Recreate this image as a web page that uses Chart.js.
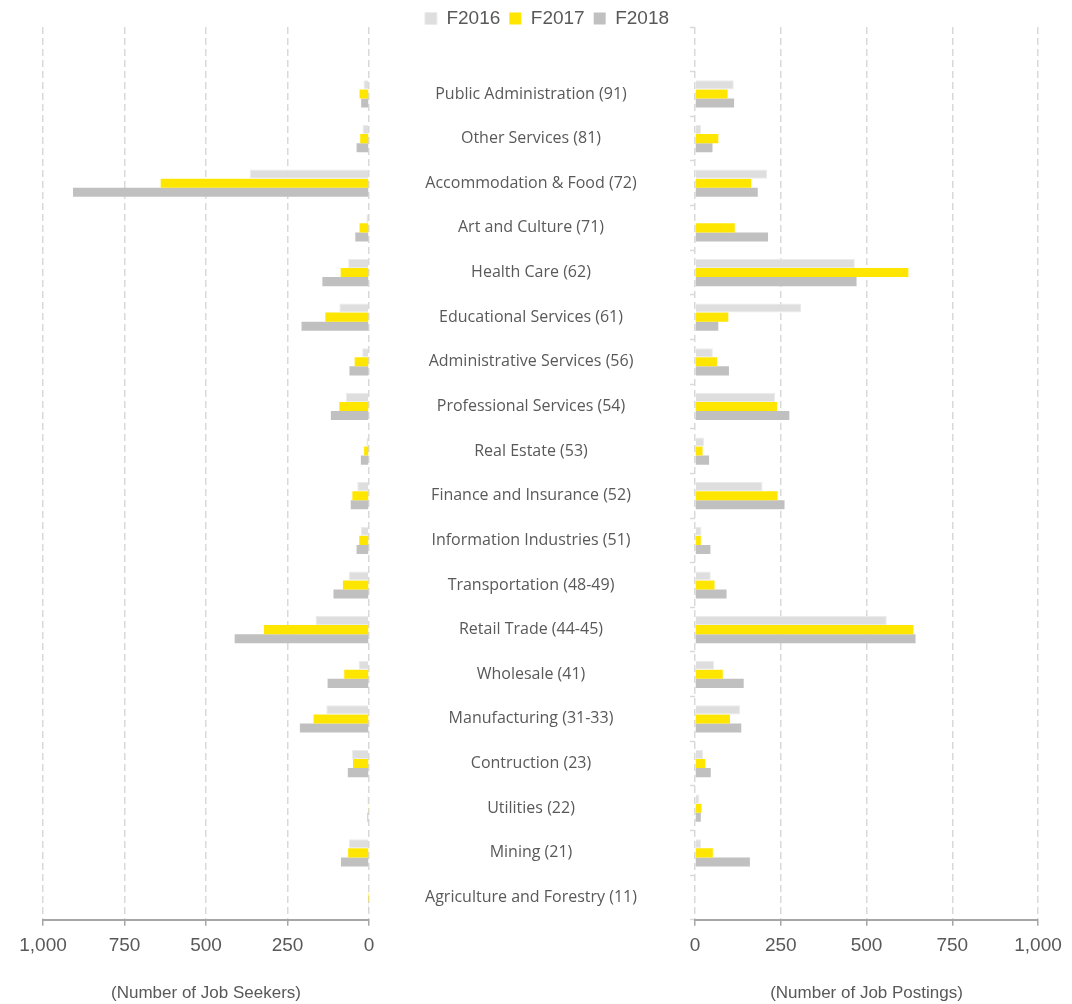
<!DOCTYPE html>
<html>
<head>
<meta charset="utf-8">
<script src="https://cdn.jsdelivr.net/npm/chart.js@4.4.1/dist/chart.umd.min.js"></script>
<style>
  html, body { margin: 0; padding: 0; background: #ffffff; }
  #wrap { position: relative; width: 1072px; height: 1004px; }
  #wrap canvas { position: absolute; top: 0; left: 0; }
</style>
</head>
<body>
<div id="wrap">
  <canvas id="postings" width="1072" height="1004"></canvas>
  <canvas id="seekers" width="400" height="1004"></canvas>
</div>
<script>
// Industries (NAICS code in brackets); the first row is a spacer above the list
const industries = [
  '',
  'Public Administration (91)',
  'Other Services (81)',
  'Accommodation & Food (72)',
  'Art and Culture (71)',
  'Health Care (62)',
  'Educational Services (61)',
  'Administrative Services (56)',
  'Professional Services (54)',
  'Real Estate (53)',
  'Finance and Insurance (52)',
  'Information Industries (51)',
  'Transportation (48-49)',
  'Retail Trade (44-45)',
  'Wholesale (41)',
  'Manufacturing (31-33)',
  'Contruction (23)',
  'Utilities (22)',
  'Mining (21)',
  'Agriculture and Forestry (11)'
];

const seriesNames = ['F2016', 'F2017', 'F2018'];

// Number of job seekers by industry
const seekersF2016 = [null, 17, 20, 366, 8, 64, 91, 21, 71, 8, 36, 25, 62, 164, 32, 131, 52, 5, 62, 2];
const seekersF2017 = [null, 29, 27, 639, 29, 87, 134, 44, 91, 15, 51, 30, 80, 322, 76, 170, 49, 2, 64, 1];
const seekersF2018 = [null, 24, 38, 908, 42, 143, 207, 60, 117, 25, 56, 38, 109, 412, 127, 212, 65, 5, 86, 3];

// Number of job postings by industry
const postingsF2016 = [null, 113, 18, 210, 0, 466, 310, 52, 234, 27, 197, 19, 46, 559, 56, 132, 24, 13, 18, 0];
const postingsF2017 = [null, 95, 68, 164, 116, 622, 97, 64, 239, 22, 241, 17, 57, 637, 81, 102, 30, 19, 52, 0];
const postingsF2018 = [null, 114, 51, 183, 213, 471, 68, 99, 275, 41, 261, 45, 92, 643, 142, 135, 46, 17, 160, 0];

const axisTicks = [0, 250, 500, 750, 1000];
const axisMax = 1000;

const TEXT = '#595959';
const GRID = '#D9D9D9';
const AXIS = '#A6A6A6';
const colors = ['#DEDEDE', '#FFE600', '#C0C0C0'];
const narrowFont = "'Liberation Sans', Arial, sans-serif";
const labelFont = "'Open Sans', 'Noto Sans', sans-serif";
const labelSize = 16;

function buildDatasets(values) {
  return values.map((data, i) => ({
    label: seriesNames[i],
    data: data,
    backgroundColor: colors[i],
    borderColor: i === 0 ? '#EBEBEB' : colors[i],
    borderWidth: i === 0 ? 1 : 0,
    categoryPercentage: 0.61,
    barPercentage: 1.0
  }));
}

function valueAxis(title, reverse) {
  return {
    type: 'linear',
    min: 0,
    max: axisMax,
    reverse: reverse,
    afterBuildTicks(scale) { scale.ticks = axisTicks.map(v => ({ value: v })); },
    ticks: {
      color: TEXT,
      font: { family: narrowFont, size: 19 },
      padding: 9,
      callback: v => v.toLocaleString('en-US')
    },
    grid: {
      color: GRID,
      lineWidth: 1.5,
      tickColor: AXIS,
      tickLength: 6,
      tickWidth: 1.5
    },
    border: { display: true, color: AXIS, width: 2, dash: [7, 4] },
    title: {
      display: true,
      text: title,
      color: TEXT,
      font: { family: narrowFont, size: 17 },
      padding: { top: 17, bottom: 0 }
    }
  };
}

// Centre the industry names in the gap between the two panels
const measureCtx = document.createElement('canvas').getContext('2d');
measureCtx.font = labelSize + "px " + labelFont;
const widestLabel = Math.max(...industries.map(t => measureCtx.measureText(t).width));
const labelCentre = 531;
const postingsLeft = 695;
const tickLen = 5;
const labelPadding = postingsLeft - tickLen - labelCentre - widestLabel / 2;

const postingsChart = new Chart(document.getElementById('postings'), {
  type: 'bar',
  data: {
    labels: industries,
    datasets: buildDatasets([postingsF2016, postingsF2017, postingsF2018])
  },
  options: {
    indexAxis: 'y',
    responsive: false,
    animation: false,
    layout: { padding: { left: 56, right: 34, top: 0, bottom: 0 } },
    plugins: {
      tooltip: { enabled: false },
      legend: {
        position: 'top',
        align: 'center',
        maxHeight: 27,
        labels: {
          boxWidth: 12,
          boxHeight: 12,
          padding: 9,
          color: TEXT,
          font: { family: narrowFont, size: 19 }
        }
      }
    },
    scales: {
      x: valueAxis('(Number of Job Postings)', false),
      y: {
        position: 'left',
        grid: {
          display: true,
          drawOnChartArea: false,
          drawTicks: true,
          tickLength: tickLen,
          tickColor: GRID,
          tickWidth: 1.5,
          offset: true
        },
        border: { display: false },
        ticks: {
          autoSkip: false,
          crossAlign: 'center',
          padding: labelPadding,
          color: TEXT,
          font: { family: labelFont, size: labelSize }
        },
        afterFit(scale) {
          scale.width = postingsLeft - 56;
          scale.paddingTop = 0;
          scale.paddingBottom = 0;
        }
      }
    }
  }
});

const seekersChart = new Chart(document.getElementById('seekers'), {
  type: 'bar',
  data: {
    labels: industries,
    datasets: buildDatasets([seekersF2016, seekersF2017, seekersF2018])
  },
  options: {
    indexAxis: 'y',
    responsive: false,
    animation: false,
    layout: { padding: { left: 43, right: 31, top: postingsChart.chartArea.top, bottom: 0 } },
    plugins: {
      tooltip: { enabled: false },
      legend: { display: false }
    },
    scales: {
      x: valueAxis('(Number of Job Seekers)', true),
      y: { display: false, offset: true }
    }
  }
});
</script>
</body>
</html>
